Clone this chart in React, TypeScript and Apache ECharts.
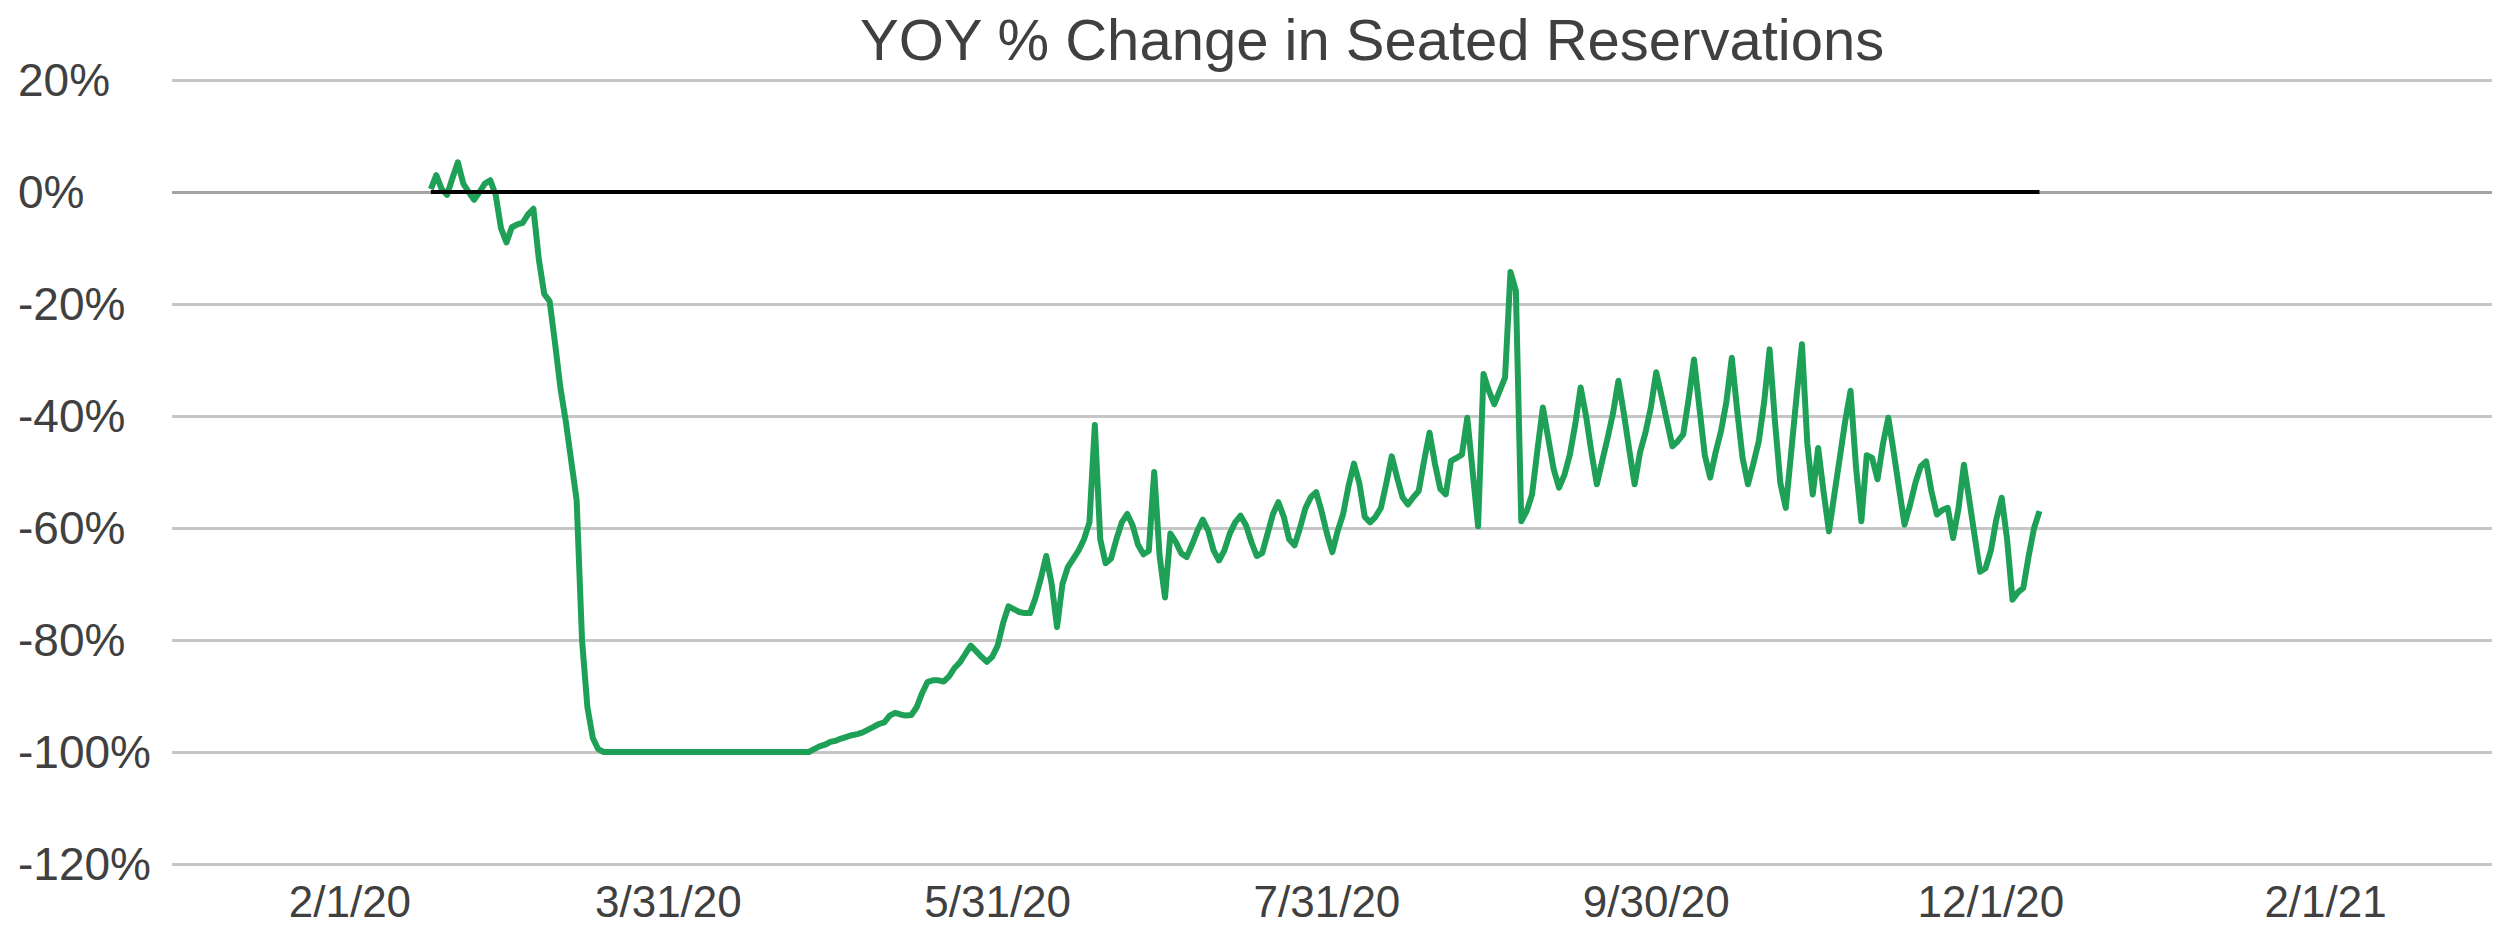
import React, { useEffect, useRef } from "react";
import * as echarts from "echarts";

const TITLE = "YOY % Change in Seated Reservations";
const FONT = "'Liberation Sans', Arial, Helvetica, sans-serif";
const TEXT_COLOR = "#404040";
const DAY = 86400000;

// first day of the daily series: 2/16/20
const seriesStart = Date.UTC(2020, 1, 16);

// daily YOY % change in seated reservations, 2/16/20 .. 12/11/20
const yoyValues: number[] = [
  // Feb 16 - Feb 29
  0.5, 3.0, 0.5, -0.5, 2.5, 5.3, 1.5, 0.0, -1.4, 0.0, 1.5, 2.1, -0.5, -6.5,
  // Mar 1 - Mar 31
  -9.0, -6.3, -5.8, -5.5, -4.0, -3.0, -12.0, -18.2, -19.5, -27.0, -35.0, -41.0, -48.0, -55.0, -80.0, -92.0,
  -97.5, -99.5, -100, -100, -100, -100, -100, -100, -100, -100, -100, -100, -100, -100, -100,
  // Apr 1 - Apr 30
  -100, -100, -100, -100, -100, -100, -100, -100, -100, -100, -100, -100, -100, -100, -100,
  -100, -100, -100, -100, -100, -100, -100, -100, -100, -100, -100, -99.5, -99.0, -98.7, -98.2,
  // May 1 - May 31
  -98.0, -97.6, -97.3, -97.0, -96.8, -96.5, -96.0, -95.5, -95.0, -94.7, -93.5, -93.0, -93.3, -93.5, -93.4, -92.0,
  -89.5, -87.5, -87.2, -87.2, -87.4, -86.5, -85.0, -84.0, -82.5, -81.0, -82.0, -83.0, -83.9, -83.0, -81.0,
  // Jun 1 - Jun 30
  -77.0, -74.0, -74.5, -75.0, -75.2, -75.2, -72.5, -69.0, -65.0, -70.0, -77.7, -70.0, -67.0, -65.5, -64.0,
  -62.0, -59.0, -41.6, -62.0, -66.3, -65.5, -62.0, -59.0, -57.5, -59.5, -63.0, -64.7, -64.1, -50.0, -65.0,
  // Jul 1 - Jul 31
  -72.4, -61.0, -62.5, -64.5, -65.2, -63.0, -60.5, -58.5, -60.5, -64.0, -65.8, -64.0, -61.0, -59.0, -57.8, -59.5,
  -62.5, -65.0, -64.5, -61.0, -57.5, -55.4, -58.0, -62.0, -63.1, -60.0, -56.5, -54.5, -53.6, -57.0, -61.0,
  // Aug 1 - Aug 31
  -64.3, -60.5, -57.5, -52.5, -48.5, -52.0, -58.0, -59.0, -58.0, -56.4, -52.0, -47.2, -51.0, -54.5, -55.8, -54.5,
  -53.4, -48.0, -43.0, -48.5, -53.0, -54.0, -48.0, -47.5, -46.9, -40.3, -50.0, -59.7, -32.5, -35.5, -37.9,
  // Sep 1 - Sep 30
  -35.5, -33.1, -14.3, -17.6, -58.8, -57.0, -54.0, -46.0, -38.5, -44.0, -49.5, -52.8, -50.5, -46.9, -41.5,
  -34.9, -40.0, -46.5, -52.2, -48.0, -43.9, -39.5, -33.7, -39.5, -46.0, -52.2, -46.5, -43.0, -38.5, -32.2,
  // Oct 1 - Oct 31
  -36.5, -41.0, -45.4, -44.5, -43.3, -37.0, -29.9, -38.5, -47.0, -51.0, -46.5, -42.7, -37.5, -29.6, -39.0, -47.5,
  -52.2, -48.5, -44.5, -37.5, -28.1, -41.0, -52.0, -56.4, -46.5, -36.5, -27.2, -45.0, -54.0, -45.7, -53.5,
  // Nov 1 - Nov 30
  -60.6, -54.0, -47.5, -41.0, -35.5, -49.0, -58.8, -47.0, -47.5, -51.3, -45.0, -40.3, -46.5, -53.0, -59.4,
  -56.0, -52.0, -49.0, -48.1, -53.5, -57.6, -56.8, -56.4, -61.8, -56.5, -48.7, -55.0, -61.5, -67.8, -67.2,
  // Dec 1 - Dec 11
  -64.0, -58.5, -54.6, -62.0, -72.8, -71.5, -70.7, -65.0, -60.0, -57.0,
];

const yoyDates: number[] = yoyValues.map((_, i) => seriesStart + i * DAY);

// flat black reference line at 0%
const zeroLineDates = [Date.UTC(2020, 1, 16), Date.UTC(2020, 11, 10)];
const zeroLineValues = [0, 0];

// x axis date labels
const xLabelDates = [
  Date.UTC(2020, 1, 1),
  Date.UTC(2020, 2, 31),
  Date.UTC(2020, 4, 31),
  Date.UTC(2020, 6, 31),
  Date.UTC(2020, 8, 30),
  Date.UTC(2020, 11, 1),
  Date.UTC(2021, 1, 1),
];
const xMin = Date.UTC(2019, 11, 30, 1);
const xMax = Date.UTC(2021, 2, 3, 20);

// y axis
const yMin = -120;
const yMax = 20;
const yStep = 20;

function fmtDate(v: number): string {
  const d = new Date(v);
  return `${d.getUTCMonth() + 1}/${d.getUTCDate()}/${String(d.getUTCFullYear()).slice(2)}`;
}

export default function App() {
  const ref = useRef<HTMLDivElement>(null);

  useEffect(() => {
    document.body.style.margin = "0";
    if (!ref.current) return;
    const chart = echarts.init(ref.current, undefined, { renderer: "svg" });
    const option: any = {
      animation: false,
      backgroundColor: "#ffffff",
      title: {
        text: TITLE,
        left: 855,
        top: 5,
        textStyle: {
          fontFamily: FONT,
          fontSize: 58,
          fontWeight: "normal",
          color: TEXT_COLOR,
        },
      },
      grid: { left: 172, right: 9, top: 80, bottom: 64, containLabel: false },
      xAxis: {
        type: "value",
        min: xMin,
        max: xMax,
        splitLine: { show: false },
        axisLine: { show: false },
        axisTick: { show: false },
        axisLabel: {
          customValues: xLabelDates,
          formatter: (v: number) => fmtDate(v),
          fontFamily: FONT,
          fontSize: 44,
          lineHeight: 36,
          color: TEXT_COLOR,
          margin: 19,
        },
      },
      yAxis: {
        type: "value",
        min: yMin,
        max: yMax,
        interval: yStep,
        axisLine: { show: false },
        axisTick: { show: false },
        splitLine: { lineStyle: { color: "#c6c6c6", width: 3 } },
        axisLabel: {
          formatter: "{value}%",
          align: "left",
          margin: 154,
          fontFamily: FONT,
          fontSize: 46,
          color: TEXT_COLOR,
        },
      },
      series: [
        {
          name: "axis0",
          type: "line",
          data: [],
          silent: true,
          z: 1,
          markLine: {
            silent: true,
            z: 1,
            symbol: "none",
            label: { show: false },
            lineStyle: { color: "#a4a4a4", width: 3, type: "solid" },
            data: [{ yAxis: 0 }],
          },
        },
        {
          name: "YOY % Change",
          type: "line",
          data: yoyDates.map((d, i) => [d, yoyValues[i]]),
          symbol: "none",
          showSymbol: false,
          lineStyle: { color: "#1fa057", width: 6, join: "round" },
          z: 3,
        },
        {
          name: "Zero",
          type: "line",
          data: zeroLineDates.map((d, i) => [d, zeroLineValues[i]]),
          symbol: "none",
          showSymbol: false,
          lineStyle: { color: "#000000", width: 4 },
          z: 4,
        },
      ],
    };
    chart.setOption(option);
    return () => chart.dispose();
  }, []);

  return <div ref={ref} style={{ width: 2501, height: 928 }} />;
}
